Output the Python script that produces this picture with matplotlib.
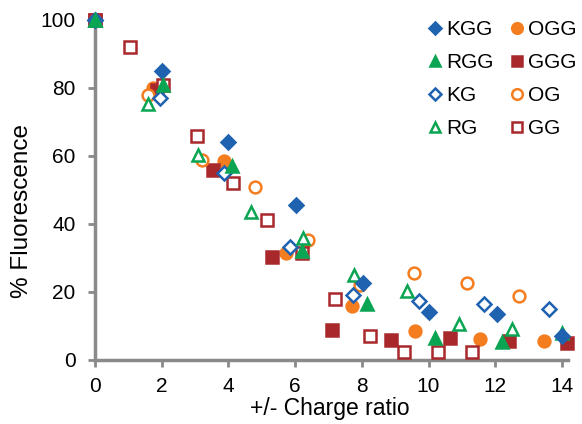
import matplotlib
matplotlib.use("Agg")
import matplotlib.pyplot as plt

plt.rcParams['font.family'] = ['Liberation Sans', 'DejaVu Sans']

# data
kgg_x = [0, 2.0, 4.0, 6.02, 8.05, 10.0, 12.04, 14.0]
kgg_y = [100, 85, 64, 45.5, 22.7, 14, 13.5, 7]
rgg_x = [0, 2.05, 4.1, 6.2, 8.17, 10.2, 12.2]
rgg_y = [100, 81, 57, 32, 16.5, 6.6, 5.3]
kg_x = [0, 1.95, 3.87, 5.84, 7.75, 9.7, 11.65, 13.6]
kg_y = [100, 77, 55, 33.3, 19, 17.4, 16.5, 15]
rg_x = [0, 1.58, 3.1, 4.67, 6.23, 7.78, 9.34, 10.9, 12.5, 14.0]
rg_y = [100, 75.3, 60.3, 43.5, 35.8, 25, 20.3, 10.6, 9.1, 7.9]
ogg_x = [0, 1.75, 3.86, 5.74, 7.7, 9.6, 11.55, 13.45]
ogg_y = [100, 80, 58.5, 31.4, 15.9, 8.5, 6.2, 5.6]
ggg_x = [0, 1.85, 3.53, 5.3, 7.1, 8.86, 10.63, 12.4, 14.15]
ggg_y = [100, 79.5, 56, 30.3, 8.8, 5.9, 6.5, 5.6, 5]
og_x = [0, 1.6, 3.2, 4.79, 6.4, 7.96, 9.55, 11.14, 12.7]
og_y = [100, 78, 58.8, 51, 35.3, 22, 25.6, 22.5, 18.8]
gg_x = [0, 1.05, 2.04, 3.05, 4.13, 5.15, 6.2, 7.2, 8.26, 9.25, 10.27, 11.3]
gg_y = [100, 92, 81, 66, 52, 41.2, 31.5, 18, 7, 2.4, 2.4, 2.4]

blue = '#1f62b0'
green = '#0aa552'
orange = '#f47d20'
red = '#a8282c'

fig = plt.figure(figsize=(5.82, 4.24), dpi=100)
ax = fig.add_axes([0.163, 0.151, 0.813, 0.802])

ms = 8.5
mew = 1.8
series = [
    (ogg_x, ogg_y, 'OGG', 'o', orange, True),
    (ggg_x, ggg_y, 'GGG', 's', red, True),
    (og_x, og_y, 'OG', 'o', orange, False),
    (gg_x, gg_y, 'GG', 's', red, False),
    (kg_x, kg_y, 'KG', 'D', blue, False),
    (rg_x, rg_y, 'RG', '^', green, False),
    (kgg_x, kgg_y, 'KGG', 'D', blue, True),
    (rgg_x, rgg_y, 'RGG', '^', green, True),
]
handles = {}
for xs, ys, name, mk, col, filled in series:
    size = ms - 1.5 if mk == 'D' else ms
    h, = ax.plot(xs, ys, linestyle='none', marker=mk, markersize=size,
                 markerfacecolor=col if filled else 'white',
                 markeredgecolor=col, markeredgewidth=mew,
                 clip_on=False, zorder=3, label=name)
    handles[name] = h

order = ['KGG', 'RGG', 'KG', 'RG', 'OGG', 'GGG', 'OG', 'GG']
leg = fig.legend([handles[n] for n in order], order, ncol=2, frameon=False,
                 loc='upper left', bbox_to_anchor=(0.737, 0.953),
                 borderpad=0, borderaxespad=0,
                 fontsize=15, handlelength=0.6, handletextpad=0.25,
                 columnspacing=0.8, labelspacing=0.68, markerscale=0.9)

ax.set_xlim(0, 14.18)
ax.set_ylim(0, 100)
ax.set_xticks(range(0, 15, 2))
ax.set_yticks(range(0, 101, 20))
for s in ['top', 'right']:
    ax.spines[s].set_visible(False)
for s in ['left', 'bottom']:
    ax.spines[s].set_color('#8a8a8a')
    ax.spines[s].set_linewidth(2.5)
ax.tick_params(direction='out', length=5, width=2, color='#8a8a8a',
               labelsize=15)
ax.tick_params(axis='y', pad=9)
ax.tick_params(axis='x', pad=7)
ax.set_xlabel('+/- Charge ratio', fontsize=16.5)
ax.set_ylabel('% Fluorescence', fontsize=17.5)
ax.xaxis.set_label_coords(0.497, -0.108)
ax.yaxis.set_label_coords(-0.131, 0.438)

fig.savefig('out.png', dpi=100)
